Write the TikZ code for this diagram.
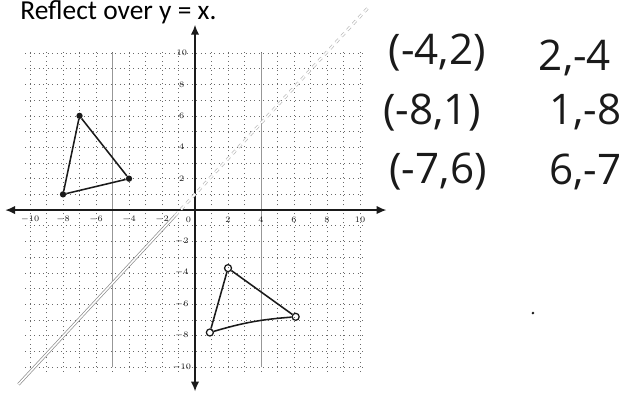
\documentclass[tikz,border=0pt]{standalone}
\usepackage{fontspec}
\setmainfont{Carlito}
\newfontfamily\handfont{Open Sans}
\usepackage{tikz}
\usetikzlibrary{arrows.meta}
\definecolor{rfink}{HTML}{1A1A1A}
\definecolor{rfgrid}{HTML}{6A6A6A}
\definecolor{rfmirror}{HTML}{8C8C8C}

\begin{document}
\begin{tikzpicture}[x=0.4125cm, y=0.3925cm,
    gridline/.style={rfgrid, line width=0.5pt, dash pattern=on 0.6pt off 2.6pt},
    ruleline/.style={rfgrid!70, line width=0.6pt},
    axis/.style={rfink, line width=1.1pt, {Latex[length=7pt,width=6pt]}-{Latex[length=7pt,width=6pt]}},
    ticklabel/.style={font=\fontsize{6.5}{6.5}\selectfont, text=rfink, inner sep=1pt},
    handtext/.style={font=\handfont\fontsize{30}{30}\selectfont, text=rfink, inner sep=0pt},
    vertex/.style={circle, fill=rfink, inner sep=0pt, minimum size=4.5pt},
    imagevertex/.style={circle, draw=rfink, line width=0.9pt, inner sep=0pt, minimum size=5pt},
    side/.style={rfink, line width=1.1pt},
    mirror/.style={rfmirror, line width=0.5pt, double=white, double distance=1.1pt}]
  \useasboundingbox (-11.82,-11.59) rectangle (26.0,13.38);

  % title
  \node[anchor=base west, inner sep=0pt, font=\fontsize{19.5}{20}\selectfont] (title) at (-10.6,12.12) {Reflect over y = x.};

  % grid
  \foreach \i in {-10,...,10} {
    \draw[gridline] (\i,-10.3) -- (\i,10.3);
    \draw[gridline] (-10.3,\i) -- (10.3,\i);
  }
  \draw[ruleline] (-5,-10) -- (-5,10);
  \draw[ruleline] (4,-10) -- (4,10);

  % axes
  \coordinate (xleft) at (-11.5,0);
  \coordinate (xright) at (11.6,0);
  \coordinate (ytop) at (0,11.8);
  \coordinate (ybottom) at (0,-11.55);
  \draw[axis] (xleft) -- (xright);
  \draw[axis] (ybottom) -- (ytop);

  \foreach \v in {-10,-8,-6,-4,-2,2,4,6,8,10} {
    \node[ticklabel] (xt\v) at (\v,-0.6) {$\v$};
    \node[ticklabel] (yt\v) at (-0.8,\v) {$\v$};
  }
  \node[ticklabel] (xt0) at (-0.4,-0.6) {$0$};

  % line y = x
  \coordinate (mirrorlow) at (-10.7,-11.1);
  \coordinate (mirrormid) at (-1.2,-0.35);
  \coordinate (mirrorhigh) at (10.5,12.9);
  \draw[mirror] (mirrorlow) -- (mirrormid);
  \draw[mirror, rfmirror!60, dashed] (mirrormid) -- (mirrorhigh);

  % original triangle
  \node[vertex] (pa) at (-4,2) {};
  \node[vertex] (pb) at (-8,1) {};
  \node[vertex] (pc) at (-7,6) {};
  \draw[side] (pa) -- (pb) -- (pc) -- (pa);

  % reflected triangle
  \node[imagevertex] (qa) at (2,-3.7) {};
  \node[imagevertex] (qb) at (0.9,-7.8) {};
  \node[imagevertex] (qc) at (6.1,-6.8) {};
  \draw[side] (qa) -- (qb);
  \draw[side] (qb) to[bend left=6] (qc);
  \draw[side] (qc) -- (qa);

  % worked points
  \node[handtext] (pta) at (14.67,10.0) {(-4,2)};
  \node[handtext] (ptb) at (14.36,6.18) {(-8,1)};
  \node[handtext] (ptc) at (14.73,2.42) {(-7,6)};
  \node[handtext] (qta) at (23.03,9.68) {2,-4};
  \node[handtext] (qtb) at (23.64,6.24) {1,-8};
  \node[handtext] (qtc) at (23.64,2.42) {6,-7};

  \node[circle, fill=rfink, inner sep=0pt, minimum size=2pt] (speck) at (20.48,-6.56) {};
\end{tikzpicture}
\end{document}
